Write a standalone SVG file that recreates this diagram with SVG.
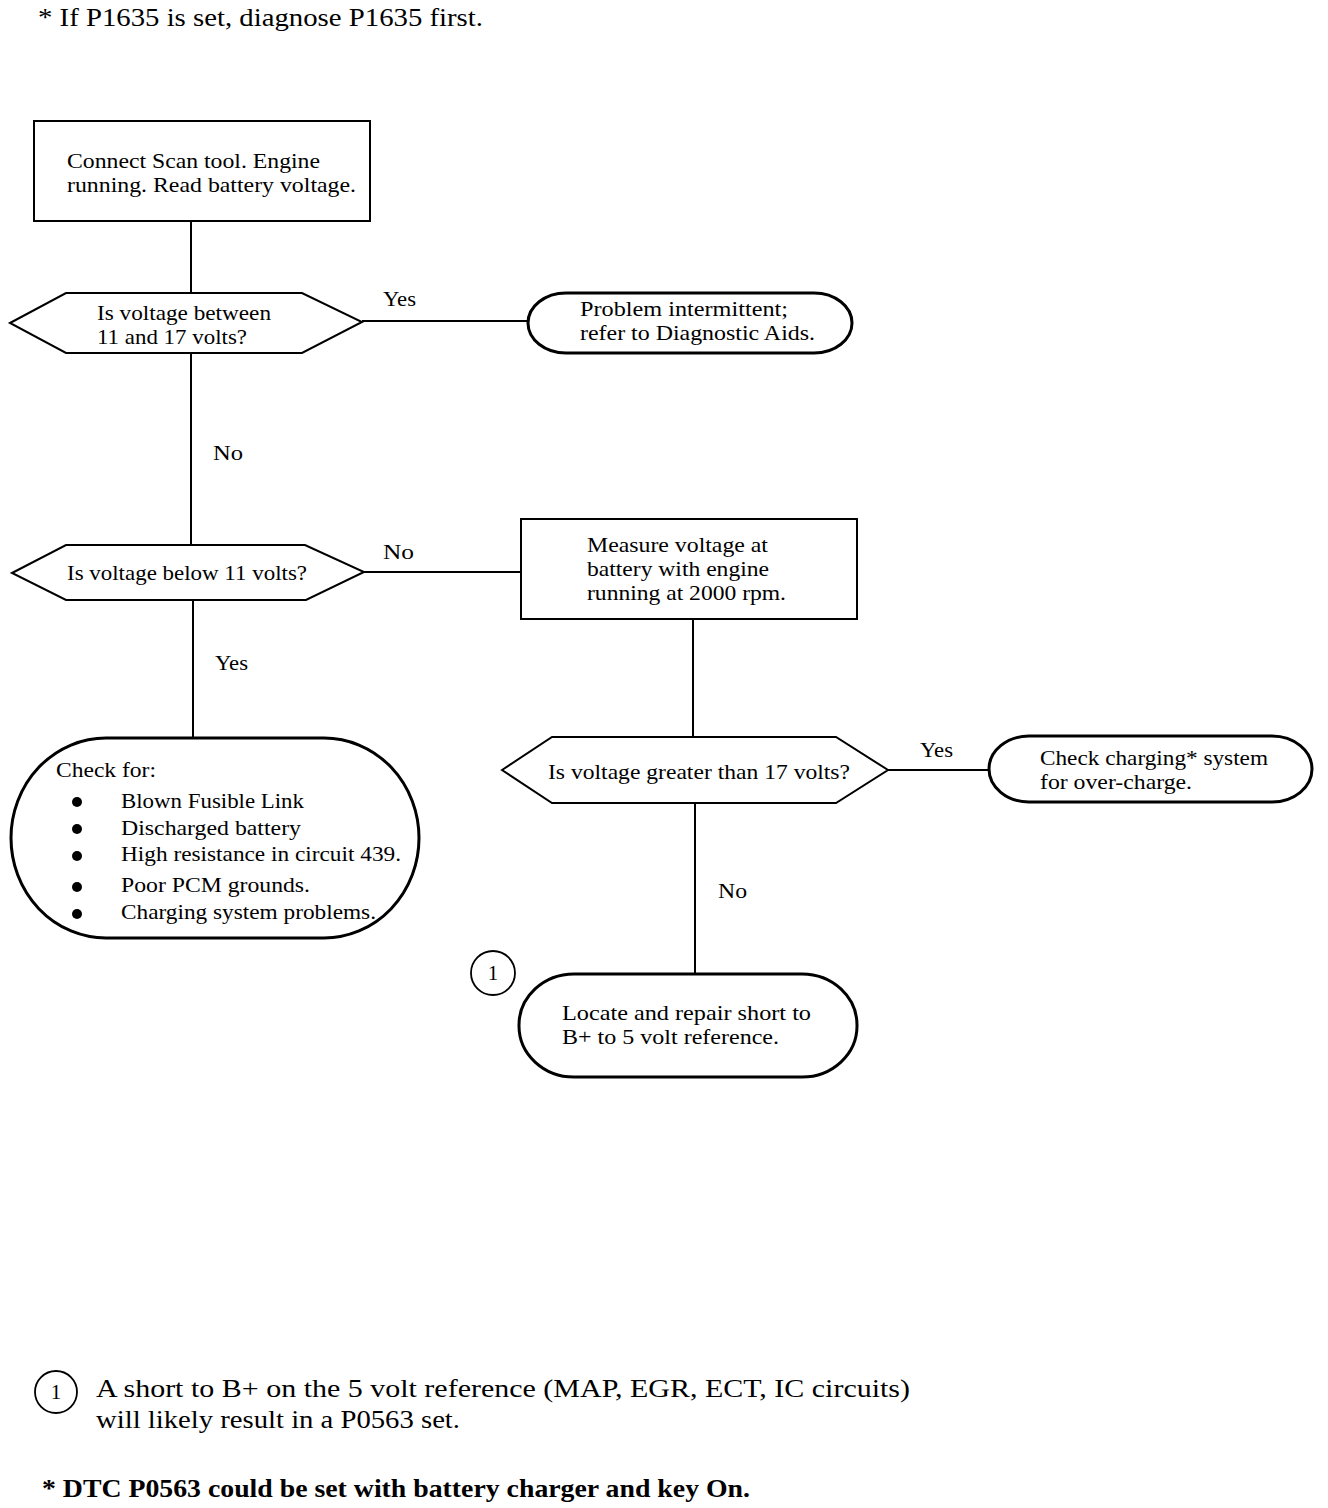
<svg xmlns="http://www.w3.org/2000/svg" width="1328" height="1508" viewBox="0 0 1328 1508">
<style>
  text { font-family: "Liberation Serif", "Times New Roman", serif; fill: #000; }
  .t { font-size: 21px; }
  .lbl { font-size: 21px; }
  .big { font-size: 25px; }
  .box { fill: #fff; stroke: #000; stroke-width: 2; }
  .oval { fill: #fff; stroke: #000; stroke-width: 3; }
  .ln { stroke: #000; stroke-width: 2; fill: none; }
  .circ { fill: #fff; stroke: #000; stroke-width: 1.8; }
</style>
<rect width="1328" height="1508" fill="#fff"/>

<text class="big" x="38" y="26" textLength="445" lengthAdjust="spacingAndGlyphs">* If P1635 is set, diagnose P1635 first.</text>

<g id="connectors">
  <line class="ln" x1="191" y1="221" x2="191" y2="293"/>
  <line class="ln" x1="362" y1="321" x2="528" y2="321"/>
  <line class="ln" x1="191" y1="353" x2="191" y2="545"/>
  <line class="ln" x1="364" y1="572" x2="521" y2="572"/>
  <line class="ln" x1="193" y1="600" x2="193" y2="738"/>
  <line class="ln" x1="693" y1="619" x2="693" y2="737"/>
  <line class="ln" x1="888" y1="770" x2="990" y2="770"/>
  <line class="ln" x1="695" y1="803" x2="695" y2="974"/>
  <text class="lbl" x="383" y="306" textLength="33" lengthAdjust="spacingAndGlyphs">Yes</text>
  <text class="lbl" x="213" y="460" textLength="30" lengthAdjust="spacingAndGlyphs">No</text>
  <text class="lbl" x="383" y="559" textLength="31" lengthAdjust="spacingAndGlyphs">No</text>
  <text class="lbl" x="215" y="670" textLength="33" lengthAdjust="spacingAndGlyphs">Yes</text>
  <text class="lbl" x="920" y="757" textLength="33" lengthAdjust="spacingAndGlyphs">Yes</text>
  <text class="lbl" x="718" y="898" textLength="29" lengthAdjust="spacingAndGlyphs">No</text>
</g>

<g id="start">
  <rect class="box" x="34" y="121" width="336" height="100"/>
  <text class="t" x="67" y="168" textLength="253" lengthAdjust="spacingAndGlyphs">Connect Scan tool. Engine</text>
  <text class="t" x="67" y="192" textLength="289" lengthAdjust="spacingAndGlyphs">running. Read battery voltage.</text>
</g>

<g id="q1">
  <polygon class="box" points="10,323 66,293 302,293 362,322 302,353 66,353"/>
  <text class="t" x="97" y="320" textLength="174" lengthAdjust="spacingAndGlyphs">Is voltage between</text>
  <text class="t" x="97" y="344" textLength="150" lengthAdjust="spacingAndGlyphs">11 and 17 volts?</text>
</g>

<g id="intermittent">
  <rect class="oval" x="528" y="293" width="324" height="60" rx="38" ry="30"/>
  <text class="t" x="580" y="316" textLength="208" lengthAdjust="spacingAndGlyphs">Problem intermittent;</text>
  <text class="t" x="580" y="340" textLength="235" lengthAdjust="spacingAndGlyphs">refer to Diagnostic Aids.</text>
</g>

<g id="q2">
  <polygon class="box" points="12,573 66,545 305,545 364,572 306,600 66,600"/>
  <text class="t" x="67" y="580" textLength="240" lengthAdjust="spacingAndGlyphs">Is voltage below 11 volts?</text>
</g>

<g id="measure">
  <rect class="box" x="521" y="519" width="336" height="100"/>
  <text class="t" x="587" y="552" textLength="181" lengthAdjust="spacingAndGlyphs">Measure voltage at</text>
  <text class="t" x="587" y="576" textLength="182" lengthAdjust="spacingAndGlyphs">battery with engine</text>
  <text class="t" x="587" y="600" textLength="199" lengthAdjust="spacingAndGlyphs">running at 2000 rpm.</text>
</g>

<g id="checkfor">
  <rect class="oval" x="11" y="738" width="408" height="200" rx="95" ry="100"/>
  <text class="t" x="56" y="777" textLength="100" lengthAdjust="spacingAndGlyphs">Check for:</text>
  <circle cx="77" cy="802" r="5"/>
  <circle cx="77" cy="829" r="5"/>
  <circle cx="77" cy="856" r="5"/>
  <circle cx="77" cy="887" r="5"/>
  <circle cx="77" cy="914" r="5"/>
  <text class="t" x="121" y="808" textLength="183" lengthAdjust="spacingAndGlyphs">Blown Fusible Link</text>
  <text class="t" x="121" y="835" textLength="180" lengthAdjust="spacingAndGlyphs">Discharged battery</text>
  <text class="t" x="121" y="861" textLength="280" lengthAdjust="spacingAndGlyphs">High resistance in circuit 439.</text>
  <text class="t" x="121" y="892" textLength="189" lengthAdjust="spacingAndGlyphs">Poor PCM grounds.</text>
  <text class="t" x="121" y="919" textLength="255" lengthAdjust="spacingAndGlyphs">Charging system problems.</text>
</g>

<g id="q3">
  <polygon class="box" points="502,770 552,737 836,737 888,770 836,803 552,803"/>
  <text class="t" x="548" y="779" textLength="302" lengthAdjust="spacingAndGlyphs">Is voltage greater than 17 volts?</text>
</g>

<g id="overcharge">
  <rect class="oval" x="989" y="736" width="323" height="66" rx="40" ry="33"/>
  <text class="t" x="1040" y="765" textLength="228" lengthAdjust="spacingAndGlyphs">Check charging* system</text>
  <text class="t" x="1040" y="789" textLength="152" lengthAdjust="spacingAndGlyphs">for over-charge.</text>
</g>

<g id="marker1">
  <circle class="circ" cx="493" cy="973" r="22"/>
  <text class="t" x="493" y="980" text-anchor="middle">1</text>
</g>

<g id="locate">
  <rect class="oval" x="519" y="974" width="338" height="103" rx="55" ry="51"/>
  <text class="t" x="562" y="1020" textLength="249" lengthAdjust="spacingAndGlyphs">Locate and repair short to</text>
  <text class="t" x="562" y="1044" textLength="217" lengthAdjust="spacingAndGlyphs">B+ to 5 volt reference.</text>
</g>

<g id="note1">
  <circle class="circ" cx="56" cy="1392" r="21"/>
  <text class="t" x="56" y="1399" text-anchor="middle">1</text>
  <text class="big" x="96" y="1397" textLength="814" lengthAdjust="spacingAndGlyphs">A short to B+ on the 5 volt reference (MAP, EGR, ECT, IC circuits)</text>
  <text class="big" x="96" y="1428" textLength="364" lengthAdjust="spacingAndGlyphs">will likely result in a P0563 set.</text>
</g>

<text class="big" x="42" y="1497" font-weight="bold" textLength="708" lengthAdjust="spacingAndGlyphs">* DTC P0563 could be set with battery charger and key On.</text>
</svg>
